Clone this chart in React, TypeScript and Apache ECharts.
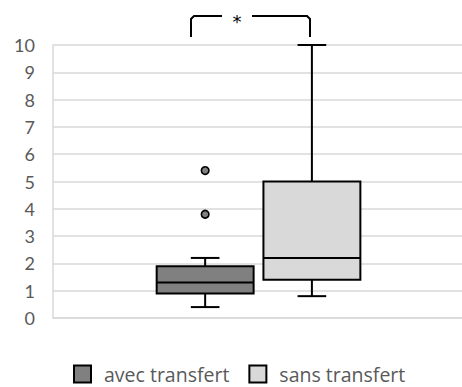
import React, { useEffect, useRef } from "react";
import * as echarts from "echarts";

// ---- data ----
const seriesNames = ["avec transfert", "sans transfert"];
const seriesColors = ["#808080", "#d9d9d9"];
const mins = [0.4, 0.8];
const q1s = [0.9, 1.4];
const medians = [1.3, 2.2];
const q3s = [1.9, 5.0];
const maxs = [2.2, 10];
const outliers: number[][] = [[5.4, 3.8], []];
const yTicks = [0, 1, 2, 3, 4, 5, 6, 7, 8, 9, 10];
const categories = [""];
const significance = "*";

// layout fractions of the category band (Excel-like gap/overlap)
const OFFSETS = [-0.128, 0.133];
const BOX_FRAC = 0.237;
const CAP_FRAC = 0.07;

const FONT = "Lato, 'Open Sans', sans-serif";
const LEGEND_FONT = "'Open Sans', Lato, sans-serif";

function makeRender(g: number) {
  return (params: any, api: any) => {
    const band = api.size([1, 0])[0];
    const cat = api.value(0);
    const base = api.coord([cat, 0]);
    const cx = base[0] + OFFSETS[g] * band;
    const hb = (BOX_FRAC * band) / 2;
    const hc = (CAP_FRAC * band) / 2;
    const y = (v: number) => api.coord([cat, v])[1];
    const yMin = y(api.value(1));
    const yQ1 = y(api.value(2));
    const yMed = y(api.value(3));
    const yQ3 = y(api.value(4));
    const yMax = y(api.value(5));
    const ls = { stroke: "#000", lineWidth: 2 };
    const children: any[] = [
      { type: "line", shape: { x1: cx, y1: yMax, x2: cx, y2: yQ3 }, style: ls },
      { type: "line", shape: { x1: cx, y1: yQ1, x2: cx, y2: yMin }, style: ls },
      { type: "line", shape: { x1: cx - hc, y1: yMax, x2: cx + hc, y2: yMax }, style: ls },
      { type: "line", shape: { x1: cx - hc, y1: yMin, x2: cx + hc, y2: yMin }, style: ls },
      {
        type: "rect",
        shape: { x: cx - hb, y: yQ3, width: 2 * hb, height: yQ1 - yQ3 },
        style: { fill: seriesColors[g], stroke: "#000", lineWidth: 2 },
      },
      { type: "line", shape: { x1: cx - hb, y1: yMed, x2: cx + hb, y2: yMed }, style: ls },
    ];
    outliers[g].forEach((v) => {
      children.push({
        type: "circle",
        shape: { cx, cy: y(v), r: 3.8 },
        style: { fill: seriesColors[g], stroke: "#000", lineWidth: 1.6 },
      });
    });
    return { type: "group", children };
  };
}

export default function App() {
  const ref = useRef<HTMLDivElement>(null);
  useEffect(() => {
    if (!ref.current) return;
    const chart = echarts.init(ref.current, null, { renderer: "svg" });
    const series = seriesNames.map((name, g) => ({
      type: "custom",
      name,
      renderItem: makeRender(g),
      itemStyle: { color: seriesColors[g], borderColor: "#000", borderWidth: 2 },
      encode: { x: 0, y: [1, 2, 3, 4, 5] },
      data: [[0, mins[g], q1s[g], medians[g], q3s[g], maxs[g]]],
    }));
    chart.setOption({
      animation: false,
      textStyle: { fontFamily: FONT },
      grid: { left: 53, right: 0, top: 45, bottom: 69, containLabel: false },
      xAxis: {
        type: "category",
        data: categories,
        axisLine: { show: true, lineStyle: { color: "#d9d9d9", width: 1.5 } },
        axisTick: { show: false },
        axisLabel: { show: false },
        splitLine: { show: false },
      },
      yAxis: {
        type: "value",
        min: yTicks[0],
        max: yTicks[yTicks.length - 1],
        interval: 1,
        axisLine: { show: true, lineStyle: { color: "#d9d9d9", width: 1.5 } },
        axisTick: { show: false },
        axisLabel: { color: "#595959", fontSize: 18, fontFamily: FONT, margin: 18 },
        splitLine: { lineStyle: { color: "#d9d9d9", width: 1.5 } },
      },
      legend: {
        left: 73,
        top: 364,
        padding: 0,
        icon: "rect",
        itemWidth: 17,
        itemHeight: 17,
        itemGap: 19,
        textStyle: {
          color: "#595959",
          fontSize: 19.5,
          lineHeight: 17,
          fontFamily: LEGEND_FONT,
          padding: [0, 0, 0, 8],
        },
        data: seriesNames.map((n, g) => ({
          name: n,
          itemStyle: { color: seriesColors[g], borderColor: "#000", borderWidth: 2 },
        })),
      },
      graphic: [
        {
          type: "polyline",
          shape: { points: [[191, 37], [191, 19], [194, 16], [222, 16]] },
          style: { stroke: "#000", lineWidth: 2, fill: null },
        },
        {
          type: "polyline",
          shape: { points: [[252, 16], [307, 16], [310, 19], [310, 37]] },
          style: { stroke: "#000", lineWidth: 2, fill: null },
        },
        {
          type: "text",
          x: 237,
          y: 21,
          style: {
            text: significance,
            fontSize: 18,
            fontFamily: "'DejaVu Sans', sans-serif",
            fill: "#000000",
            align: "center",
            verticalAlign: "middle",
          },
        },
      ],
      series,
    });
    return () => chart.dispose();
  }, []);
  return <div ref={ref} style={{ width: 462, height: 387, position: "absolute", left: 0, top: 0 }} />;
}
